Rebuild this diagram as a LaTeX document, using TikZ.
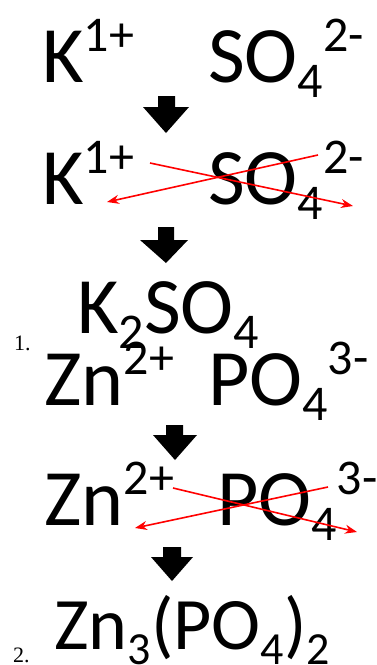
\documentclass[tikz,border=0pt]{standalone}
\usepackage{fontspec}
\setmainfont{Carlito}
\newfontfamily\numfont{Liberation Serif}
\usetikzlibrary{arrows.meta}
\newcommand\mysub[1]{\raisebox{-15pt}{\fontsize{50}{50}\selectfont #1}}
\newcommand\mysup[1]{\raisebox{31pt}{\fontsize{50}{50}\selectfont #1}}
\newcommand\mysubs[1]{\raisebox{-15pt}{\fontsize{46}{46}\selectfont #1}}
\tikzset{
  chem/.style={anchor=base west, inner sep=0pt, font=\fontsize{80}{80}\selectfont},
  chemsmall/.style={anchor=base west, inner sep=0pt, font=\fontsize{74}{74}\selectfont},
  num/.style={anchor=base west, inner sep=0pt, font=\numfont\fontsize{22}{22}\selectfont},
  swap/.style={draw=red, line width=1.6pt, -{Stealth[length=12pt,width=9pt]}},
  blockarrow/.style={fill=black}
}
\begin{document}
\begin{tikzpicture}[x=1pt,y=-1pt]
\useasboundingbox (0,0) rectangle (377,665);
% row 1
\node[chem] (k1) at (42,82) {K\mysup{1+}};
\node[chem] (s1) at (208,82) {SO\mysub{4}\mysup{2-}};
\fill[blockarrow] (158,96) -- (175,96) -- (175,107) -- (189,107) -- (166,133) -- (143,107) -- (158,107) -- cycle;
% row 2
\node[chem] (k2) at (42,204) {K\mysup{1+}};
\node[chem] (s2) at (208,204) {SO\mysub{4}\mysup{2-}};
\coordinate (a1s) at (150,163);
\coordinate (a1e) at (353,206);
\coordinate (a2s) at (318,155);
\coordinate (a2e) at (107,202);
\draw[swap] (a1s) -- (a1e);
\draw[swap] (a2s) -- (a2e);
\fill[blockarrow] (158,227) -- (174,227) -- (174,240) -- (188,240) -- (166,263) -- (140,240) -- (158,240) -- cycle;
% row 3
\node[chem] (p1) at (77,333) {K\mysub{2}SO\mysub{4}};
\node[num] (n1) at (14,350) {1.};
% row 4
\node[chem] (z1) at (44,405) {Zn\mysup{2+}};
\node[chem] (q1) at (208,405) {PO\mysub{4}\mysup{3-}};
\fill[blockarrow] (166,425) -- (183,425) -- (183,435) -- (197,435) -- (175,460) -- (153,435) -- (166,435) -- cycle;
% row 5
\node[chem] (z2) at (44,525) {Zn\mysup{2+}};
\node[chem] (q2) at (217,525) {PO\mysub{4}\mysup{3-}};
\coordinate (b1s) at (173,488);
\coordinate (b1e) at (357,532);
\coordinate (b2s) at (328,487);
\coordinate (b2e) at (135,528);
\draw[swap] (b1s) -- (b1e);
\draw[swap] (b2s) -- (b2e);
\fill[blockarrow] (163,547) -- (181,547) -- (181,557) -- (193,557) -- (172,581) -- (151,557) -- (163,557) -- cycle;
% row 6
\node[chemsmall] (p2) at (54,649) {Zn\mysubs{3}(PO\mysubs{4})\mysubs{2}};
\node[num] (n2) at (13,662) {2.};
\end{tikzpicture}
\end{document}
